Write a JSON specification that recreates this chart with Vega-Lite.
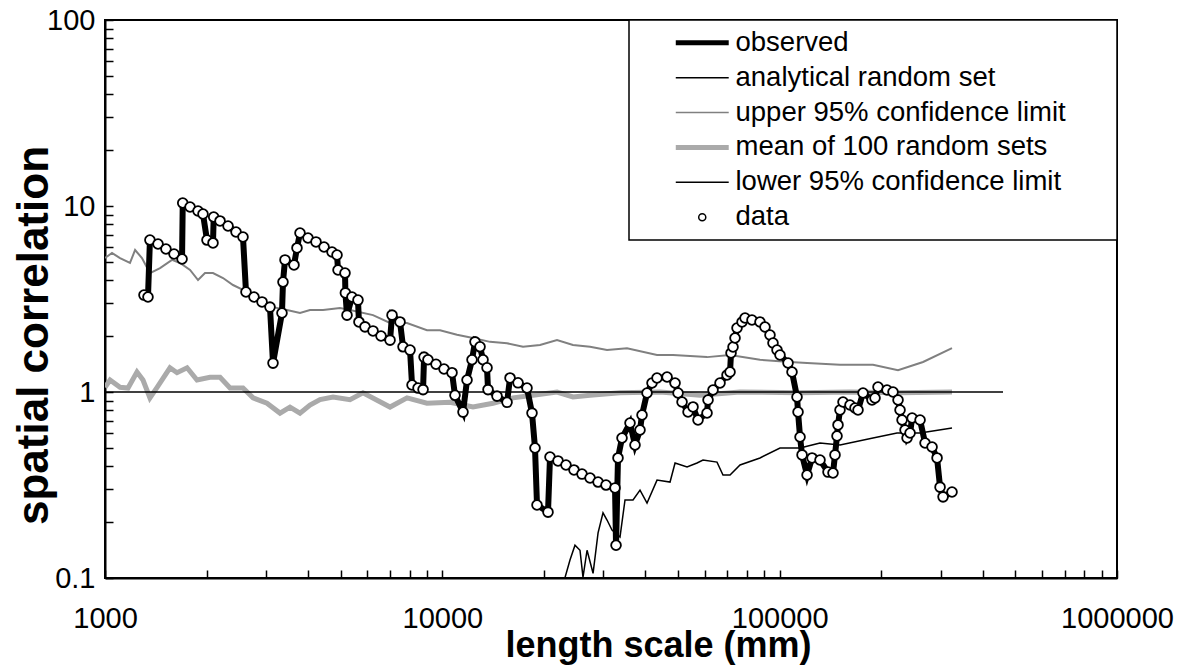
{
"$schema": "https://vega.github.io/schema/vega-lite/v6.json",
"width": 1012, "height": 558,
"autosize": {"type": "none"},
"padding": {"left": 105, "top": 20, "right": 69, "bottom": 87},
"background": "white",
"config": {"view": {"stroke": "black", "strokeWidth": 2}, "font": "Liberation Sans"},
"datasets": {
"observed": [
{"x":1305,"y":3.32},{"x":1341,"y":3.24},{"x":1359,"y":6.56},{"x":1436,"y":6.25},{"x":1516,"y":5.87},{"x":1602,"y":5.52},{"x":1692,"y":5.19},{"x":1700,"y":10.38},{"x":1787,"y":9.88},{"x":1887,"y":9.40},{"x":1952,"y":9.06},{"x":2006,"y":6.56},{"x":2090,"y":6.33},{"x":2100,"y":8.73},{"x":2193,"y":8.31},{"x":2316,"y":7.81},{"x":2446,"y":7.25},{"x":2565,"y":6.81},{"x":2618,"y":3.45},{"x":2765,"y":3.24},{"x":2921,"y":3.05},{"x":3084,"y":2.86},{"x":3148,"y":1.43},{"x":3347,"y":2.66},{"x":3370,"y":3.90},{"x":3417,"y":5.13},{"x":3633,"y":4.82},{"x":3708,"y":5.95},{"x":3785,"y":7.16},{"x":3997,"y":6.73},{"x":4222,"y":6.41},{"x":4460,"y":6.02},{"x":4710,"y":5.66},{"x":4873,"y":5.45},{"x":4907,"y":4.53},{"x":5146,"y":4.36},{"x":5160,"y":3.41},{"x":5217,"y":2.59},{"x":5397,"y":3.24},{"x":5623,"y":3.12},{"x":5660,"y":2.38},{"x":5899,"y":2.24},{"x":6230,"y":2.13},{"x":6580,"y":2.00},{"x":6998,"y":1.90},{"x":7094,"y":2.59},{"x":7492,"y":2.38},{"x":7647,"y":1.75},{"x":8022,"y":1.68},{"x":8132,"y":1.09},{"x":8472,"y":1.05},{"x":8767,"y":1.03},{"x":8828,"y":1.54},{"x":9066,"y":1.49},{"x":9578,"y":1.41},{"x":10116,"y":1.33},{"x":10683,"y":1.27},{"x":10903,"y":0.96},{"x":11516,"y":0.78},{"x":11836,"y":1.16},{"x":12246,"y":1.49},{"x":12500,"y":1.86},{"x":12934,"y":1.75},{"x":13202,"y":1.49},{"x":13567,"y":1.35},{"x":13660,"y":1.03},{"x":14526,"y":0.95},{"x":15553,"y":0.88},{"x":15875,"y":1.19},{"x":16765,"y":1.12},{"x":17824,"y":1.05},{"x":18443,"y":0.77},{"x":18825,"y":0.50},{"x":19083,"y":0.247},{"x":20571,"y":0.226},{"x":20855,"y":0.447},{"x":22026,"y":0.426},{"x":23260,"y":0.405},{"x":24563,"y":0.381},{"x":25944,"y":0.362},{"x":27411,"y":0.345},{"x":28950,"y":0.328},{"x":30567,"y":0.316},{"x":32504,"y":0.305},{"x":32730,"y":0.150},{"x":33171,"y":0.442},{"x":34092,"y":0.566},{"x":36005,"y":0.681},{"x":37254,"y":0.519},{"x":38548,"y":0.625},{"x":39081,"y":0.752},{"x":40438,"y":0.988},{"x":41840,"y":1.118},{"x":43292,"y":1.189},{"x":46366,"y":1.204},{"x":48963,"y":1.118},{"x":49975,"y":0.988},{"x":51358,"y":0.884},{"x":53503,"y":0.781},{"x":55350,"y":0.831},{"x":57272,"y":0.707},{"x":60907,"y":0.771},{"x":61326,"y":0.906},{"x":63449,"y":1.025},{"x":66553,"y":1.118},{"x":69815,"y":1.234},{"x":71261,"y":1.281},{"x":71750,"y":1.621},{"x":72736,"y":1.746},{"x":73735,"y":1.951},{"x":74745,"y":2.208},{"x":77349,"y":2.379},{"x":78950,"y":2.500},{"x":82788,"y":2.438},{"x":87432,"y":2.379},{"x":90464,"y":2.236},{"x":93608,"y":2.026},{"x":95546,"y":1.834},{"x":98200,"y":1.682},{"x":100230,"y":1.581},{"x":105870,"y":1.432},{"x":108790,"y":1.281},{"x":112580,"y":0.940},{"x":113360,"y":0.781},{"x":114920,"y":0.573},{"x":116510,"y":0.459},{"x":120560,"y":0.358},{"x":124740,"y":0.442},{"x":131700,"y":0.431},{"x":139090,"y":0.371},{"x":143920,"y":0.367},{"x":145900,"y":0.459},{"x":147910,"y":0.580},{"x":148920,"y":0.665},{"x":150970,"y":0.800},{"x":154090,"y":0.884},{"x":161630,"y":0.851},{"x":167240,"y":0.820},{"x":170710,"y":0.800},{"x":176640,"y":0.988},{"x":187820,"y":0.906},{"x":191710,"y":0.928},{"x":195670,"y":1.064},{"x":208070,"y":1.025},{"x":216770,"y":1.000},{"x":224330,"y":0.906},{"x":227410,"y":0.800},{"x":230570,"y":0.707},{"x":235340,"y":0.625},{"x":238590,"y":0.566},{"x":243520,"y":0.602},{"x":247000,"y":0.725},{"x":260730,"y":0.707},{"x":269770,"y":0.532},{"x":282980,"y":0.506},{"x":292800,"y":0.442},{"x":298860,"y":0.308},{"x":305050,"y":0.273},{"x":324260,"y":0.290}
],
"analytical": [{"x":1000,"y":1},{"x":459300,"y":1}],
"upper": [
{"x":1000,"y":5.25},{"x":1049,"y":5.59},{"x":1108,"y":5.25},{"x":1186,"y":4.94},{"x":1228,"y":5.80},{"x":1287,"y":5.25},{"x":1359,"y":4.36},{"x":1456,"y":4.64},{"x":1580,"y":5.13},{"x":1669,"y":4.94},{"x":1787,"y":4.53},{"x":1887,"y":4.00},{"x":1979,"y":4.36},{"x":2090,"y":4.36},{"x":2238,"y":4.10},{"x":2396,"y":3.76},{"x":2565,"y":3.54},{"x":2881,"y":3.05},{"x":3148,"y":2.86},{"x":3463,"y":2.76},{"x":3785,"y":2.66},{"x":4052,"y":2.76},{"x":4430,"y":2.76},{"x":4974,"y":2.83},{"x":5324,"y":2.76},{"x":6230,"y":2.59},{"x":6998,"y":2.35},{"x":7859,"y":2.35},{"x":9004,"y":2.15},{"x":9843,"y":2.15},{"x":11053,"y":2.03},{"x":12330,"y":1.95},{"x":13848,"y":1.86},{"x":15553,"y":1.83},{"x":17347,"y":1.75},{"x":19478,"y":1.79},{"x":21876,"y":1.90},{"x":24397,"y":1.79},{"x":27411,"y":1.75},{"x":30777,"y":1.68},{"x":35275,"y":1.72},{"x":43292,"y":1.58},{"x":48297,"y":1.58},{"x":60907,"y":1.54},{"x":71261,"y":1.58},{"x":87432,"y":1.49},{"x":107330,"y":1.45},{"x":120560,"y":1.43},{"x":150970,"y":1.40},{"x":189100,"y":1.40},{"x":224330,"y":1.31},{"x":266130,"y":1.45},{"x":324260,"y":1.72}
],
"mean": [
{"x":1000,"y":1.06},{"x":1035,"y":1.16},{"x":1108,"y":1.06},{"x":1170,"y":1.05},{"x":1244,"y":1.28},{"x":1296,"y":1.16},{"x":1359,"y":0.93},{"x":1427,"y":1.06},{"x":1558,"y":1.35},{"x":1635,"y":1.27},{"x":1751,"y":1.35},{"x":1874,"y":1.16},{"x":2048,"y":1.20},{"x":2193,"y":1.20},{"x":2348,"y":1.05},{"x":2565,"y":1.05},{"x":2747,"y":0.93},{"x":3021,"y":0.87},{"x":3302,"y":0.77},{"x":3535,"y":0.83},{"x":3785,"y":0.77},{"x":4052,"y":0.85},{"x":4339,"y":0.91},{"x":4742,"y":0.94},{"x":5324,"y":0.91},{"x":5818,"y":0.99},{"x":6998,"y":0.83},{"x":7859,"y":0.93},{"x":9004,"y":0.87},{"x":10538,"y":0.88},{"x":12330,"y":0.83},{"x":14135,"y":0.87},{"x":16203,"y":0.93},{"x":18570,"y":0.96},{"x":21876,"y":1.00},{"x":24397,"y":0.94},{"x":27411,"y":0.96},{"x":33626,"y":0.99},{"x":44200,"y":1.00},{"x":58060,"y":0.96},{"x":76295,"y":1.00},{"x":114920,"y":0.99},{"x":161630,"y":1.00},{"x":227410,"y":0.99},{"x":324260,"y":1.00}
],
"lower": [
{"x":22900,"y":0.095},{"x":23902,"y":0.125},{"x":24732,"y":0.150},{"x":25590,"y":0.141},{"x":26121,"y":0.101},{"x":26855,"y":0.141},{"x":27979,"y":0.106},{"x":28950,"y":0.175},{"x":29946,"y":0.224},{"x":30777,"y":0.205},{"x":31842,"y":0.181},{"x":33626,"y":0.166},{"x":34798,"y":0.263},{"x":36752,"y":0.263},{"x":38548,"y":0.297},{"x":40438,"y":0.253},{"x":43292,"y":0.336},{"x":47317,"y":0.328},{"x":48963,"y":0.415},{"x":53139,"y":0.395},{"x":56885,"y":0.415},{"x":59262,"y":0.431},{"x":65203,"y":0.420},{"x":67928,"y":0.358},{"x":71261,"y":0.358},{"x":76295,"y":0.405},{"x":87432,"y":0.442},{"x":100230,"y":0.500},{"x":114920,"y":0.500},{"x":131700,"y":0.532},{"x":150970,"y":0.519},{"x":189100,"y":0.566},{"x":222790,"y":0.602},{"x":260730,"y":0.602},{"x":324260,"y":0.640}
]
},
"encoding": {
"x": {"field": "x", "type": "quantitative",
 "scale": {"type": "log", "domain": [1000, 1000000], "nice": false},
 "axis": {"title": "length scale (mm)", "grid": false, "ticks": true,
  "values": [1000,2000,3000,4000,5000,6000,7000,8000,9000,10000,20000,30000,40000,50000,60000,70000,80000,90000,100000,200000,300000,400000,500000,600000,700000,800000,900000,1000000],
  "labelExpr": "indexof([1000,10000,100000,1000000], datum.value) >= 0 ? '' + datum.value : ''",
  "labelFontSize": 29, "labelColor": "black", "labelPadding": 34, "labelOverlap": false, "labelFlush": false,
  "tickSize": -8, "tickColor": "black", "tickWidth": 1.5, "tickOpacity": 1,
  "domainColor": "black", "domainWidth": 2,
  "titleFontSize": 36, "titleFontWeight": "bold", "titleColor": "black",
  "titleX": 553, "titleY": 78, "titleBaseline": "alphabetic", "titleAlign": "center"}},
"y": {"field": "y", "type": "quantitative",
 "scale": {"type": "log", "domain": [0.1, 100], "nice": false},
 "axis": {"title": "spatial correlation", "grid": false, "ticks": true,
  "values": [0.1,0.2,0.3,0.4,0.5,0.6,0.7,0.8,0.9,1,2,3,4,5,6,7,8,9,10,20,30,40,50,60,70,80,90,100],
  "labelExpr": "indexof([0.1,1,10,100], datum.value) >= 0 ? '' + datum.value : ''",
  "labelFontSize": 29, "labelColor": "black", "labelPadding": 18, "labelOverlap": false, "labelFlush": false,
  "tickSize": -8, "tickColor": "black", "tickWidth": 1.5, "tickOpacity": 1,
  "domainColor": "black", "domainWidth": 2,
  "titleFontSize": 44, "titleFontWeight": "bold", "titleColor": "black",
  "titleX": -58, "titleY": 315, "titleAngle": 270, "titleBaseline": "alphabetic", "titleAlign": "center"}}
},
"layer": [
{"data": {"name": "mean"}, "mark": {"type": "line", "strokeWidth": 5, "clip": true},
 "encoding": {"color": {"datum": "mean of 100 random sets",
  "scale": {"domain": ["observed","analytical random set","upper 95% confidence limit","mean of 100 random sets","lower 95% confidence limit","data"],
            "range": ["#000000","#000000","#808080","#aaaaaa","#000000","#000000"]},
  "legend": {"title": null, "orient": "top-right", "offset": 0, "padding": 9,
   "strokeColor": "black", "fillColor": "white", "cornerRadius": 0,
   "labelFont": "Liberation Sans", "labelFontSize": 27.5, "labelColor": "black", "labelLimit": 0,
   "rowPadding": 5.9, "symbolOffset": 50.5, "labelOffset": 19.5, "symbolSize": 225, "symbolType": "stroke",
   "labelExpr": "datum.label + '\u2800\u2800'",
   "encode": {
    "legend": {"update": {"strokeWidth": {"value": 1.5}}},
    "symbols": {"update": {
     "shape": {"signal": "datum.value === 'data' ? 'circle' : 'M-3.53,0H3.53'"},
     "size": {"signal": "datum.value === 'data' ? 50 : 225"},
     "strokeWidth": {"signal": "datum.value === 'observed' || datum.value === 'mean of 100 random sets' ? 5 : 1.5"},
     "stroke": {"signal": "datum.value === 'upper 95% confidence limit' ? '#808080' : (datum.value === 'mean of 100 random sets' ? '#aaaaaa' : '#000000')"},
     "fill": {"signal": "datum.value === 'data' ? '#ffffff' : 'transparent'"},
     "opacity": {"value": 1}, "strokeOpacity": {"value": 1}, "fillOpacity": {"value": 1}
    }}
   }}}}},
{"data": {"name": "upper"}, "mark": {"type": "line", "strokeWidth": 2, "clip": true},
 "encoding": {"color": {"datum": "upper 95% confidence limit"}}},
{"data": {"name": "lower"}, "mark": {"type": "line", "strokeWidth": 1.5, "clip": true},
 "encoding": {"color": {"datum": "lower 95% confidence limit"}}},
{"data": {"name": "analytical"}, "mark": {"type": "line", "strokeWidth": 1.5, "clip": true},
 "encoding": {"color": {"datum": "analytical random set"}}},
{"data": {"name": "observed"}, "mark": {"type": "line", "strokeWidth": 6, "clip": true},
 "encoding": {"color": {"datum": "observed"}, "order": {"value": null}}},
{"data": {"name": "observed"}, "mark": {"type": "point", "filled": true, "fill": "#ffffff", "stroke": "#000000", "strokeWidth": 1.8, "size": 95, "opacity": 1, "clip": true},
 "encoding": {}}
]
}
